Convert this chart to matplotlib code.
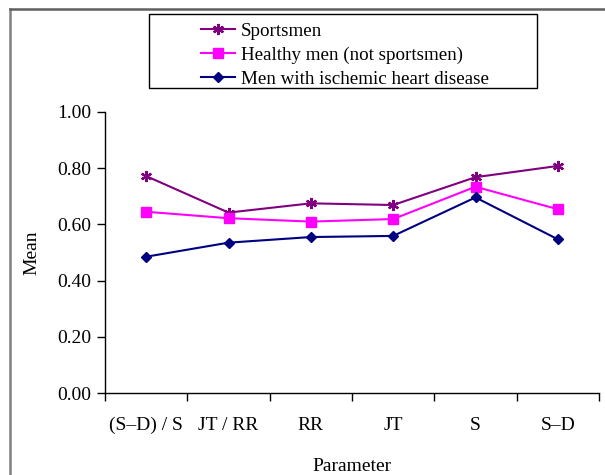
import matplotlib
matplotlib.use("Agg")
import matplotlib.pyplot as plt
from matplotlib.patches import Rectangle
from matplotlib.lines import Line2D

# === Data ===
parameters = ["(S\u2013D) / S", "JT / RR", "RR", "JT", "S", "S\u2013D"]
sportsmen = [0.772, 0.642, 0.675, 0.669, 0.768, 0.808]
healthy = [0.645, 0.622, 0.610, 0.619, 0.734, 0.654]
ischemic = [0.485, 0.535, 0.555, 0.559, 0.696, 0.547]
y_ticks = [0.0, 0.2, 0.4, 0.6, 0.8, 1.0]

plt.rcParams["font.family"] = ["Liberation Serif", "DejaVu Serif"]
plt.rcParams["font.size"] = 14

W, H = 605, 475
fig = plt.figure(figsize=(W / 100, H / 100), dpi=100)
ax = fig.add_axes([105 / W, 1 - 393 / H, (599 - 105) / W, (393 - 112) / H])

x = list(range(len(parameters)))
ax.plot(x, sportsmen, color="#800080", lw=1.5, marker=(6, 2, 0), ms=8, mew=1.6,
        label="Sportsmen")
ax.plot(x, healthy, color="#FF00FF", lw=1.5, marker="s", ms=7,
        label="Healthy men (not sportsmen)")
ax.plot(x, ischemic, color="#000080", lw=1.5, marker="D", ms=5,
        label="Men with ischemic heart disease")

ax.set_xlim(-0.5, len(parameters) - 0.5)
ax.set_ylim(0, 1.0)
ax.set_yticks(y_ticks)
ax.set_yticklabels([f"{v:.2f}" for v in y_ticks])
ax.set_xticks(x)
ax.set_xticklabels(parameters)
ax.set_xticks([i - 0.5 for i in range(len(parameters) + 1)], minor=True)
ax.tick_params(axis="x", which="major", length=0, pad=17)
ax.tick_params(axis="x", which="minor", length=6, direction="out", width=1)
ax.tick_params(axis="y", length=6, direction="out", width=1, pad=4)

for side in ("top", "right"):
    ax.spines[side].set_visible(False)
for side in ("left", "bottom"):
    ax.spines[side].set_linewidth(1)

ax.set_ylabel("Mean", labelpad=12)
ax.set_xlabel("Parameter", labelpad=17)

# legend box drawn separately so it can be wider than its content
fig.add_artist(Rectangle((149 / W, 1 - 88 / H), (537 - 149) / W, (88 - 14) / H,
                         transform=fig.transFigure, fill=False, ec="black", lw=1))
fig.legend(loc="upper left", bbox_to_anchor=(197 / W, 1 - 19 / H), frameon=False,
           fontsize=13.7, handlelength=1.8, handletextpad=0.3, labelspacing=0.35,
           borderpad=0.2, borderaxespad=0)

# outer frame (gray, only top and left visible)
fig.add_artist(Line2D([10 / W, 10 / W], [0, 1 - 9 / H], transform=fig.transFigure,
                      color="#808080", lw=1.8))
fig.add_artist(Line2D([10 / W, 1], [1 - 9 / H, 1 - 9 / H], transform=fig.transFigure,
                      color="#606060", lw=1.8))

fig.savefig("out.png", dpi=100)
